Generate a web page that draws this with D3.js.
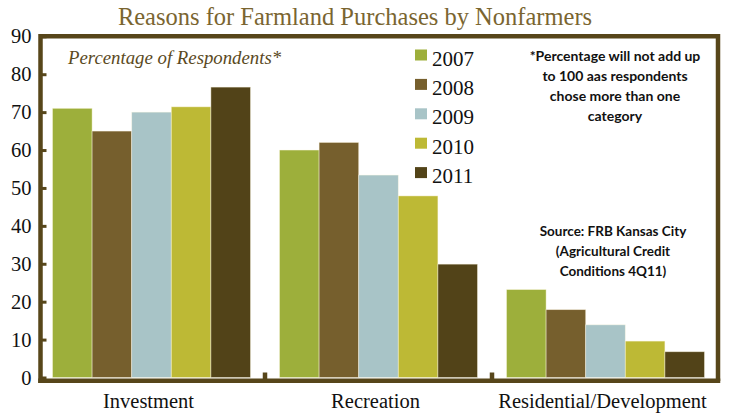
<!DOCTYPE html>
<html>
<head>
<meta charset="utf-8">
<script src="https://cdn.jsdelivr.net/npm/d3@7/dist/d3.min.js"></script>
<style>
  html, body { margin: 0; padding: 0; background: #fff; }
  svg { display: block; }
</style>
</head>
<body>
<svg id="chart" width="740" height="416"></svg>
<script>
const categories = ["Investment", "Recreation", "Residential/Development"];
const years = ["2007", "2008", "2009", "2010", "2011"];
const values2007 = [71.0, 60.0, 23.2];
const values2008 = [65.0, 62.0, 17.9];
const values2009 = [70.0, 53.4, 13.9];
const values2010 = [71.4, 47.9, 9.6];
const values2011 = [76.6, 29.9, 6.8];
const yTicks = [0, 10, 20, 30, 40, 50, 60, 70, 80, 90];
const colors = ["#9DAF3B", "#765F2D", "#A8C4C7", "#BDB935", "#524318"];
const titleText = "Reasons for Farmland Purchases by Nonfarmers";
const subtitleText = "Percentage of Respondents*";
const noteLines = ["*Percentage will not add up", "to 100 aas respondents", "chose more than one", "category"];
const sourceLines = ["Source: FRB Kansas City", "(Agricultural Credit", "Conditions 4Q11)"];

const series = [values2007, values2008, values2009, values2010, values2011];
const frameColor = "#57461A";

const svg = d3.select("#chart");

const x0 = d3.scaleBand().domain(categories).range([38, 719]).padding(0);
const x1 = d3.scaleBand().domain(years).range([14.5, x0.bandwidth() - 14.5]).padding(0);
const y = d3.scaleLinear().domain([0, 90]).range([377.5, 36.3]);

// Bars
const groups = svg.append("g").selectAll("g")
  .data(categories)
  .join("g")
  .attr("transform", d => `translate(${x0(d)},0)`);

groups.selectAll("rect")
  .data((c, ci) => years.map((yr, si) => ({ yr, v: series[si][ci], si })))
  .join("rect")
  .attr("x", d => x1(d.yr))
  .attr("width", x1.bandwidth())
  .attr("y", d => y(d.v))
  .attr("height", d => y(0) - y(d.v))
  .attr("fill", d => colors[d.si])
  .attr("stroke", "rgba(255,250,230,0.55)")
  .attr("stroke-width", 0.8);

// Frame (top + right)
const fw = 4.5;
svg.append("line").attr("x1", 40.5).attr("x2", 718).attr("y1", y(90)).attr("y2", y(90))
  .attr("stroke", frameColor).attr("stroke-width", fw);
svg.append("line").attr("x1", 718).attr("x2", 718).attr("y1", y(90) - fw / 2).attr("y2", y(0) + 3.5)
  .attr("stroke", frameColor).attr("stroke-width", fw);

// Y axis
const yAxis = d3.axisLeft(y).tickValues(yTicks).tickSizeInner(-6).tickSizeOuter(0).tickPadding(9);
const gy = svg.append("g").attr("transform", "translate(40.5,0)").call(yAxis);
gy.select(".domain").remove();
gy.selectAll(".tick line").attr("stroke", frameColor).attr("stroke-width", 3);
gy.selectAll(".tick text")
  .attr("font-family", "Liberation Serif, serif")
  .attr("font-size", 20.5)
  .attr("fill", "#111");
svg.append("line").attr("x1", 40.5).attr("x2", 40.5).attr("y1", y(90) - fw / 2).attr("y2", y(0) + 5.5)
  .attr("stroke", frameColor).attr("stroke-width", fw);

// X axis baseline
svg.append("line").attr("x1", 38.25).attr("x2", 720.25).attr("y1", y(0) + 3.3).attr("y2", y(0) + 3.3)
  .attr("stroke", frameColor).attr("stroke-width", fw);

// X boundary ticks
svg.append("g").selectAll("line")
  .data(categories.slice(1))
  .join("line")
  .attr("x1", d => x0(d)).attr("x2", d => x0(d))
  .attr("y1", y(0) + 2).attr("y2", y(0) - 5)
  .attr("stroke", frameColor).attr("stroke-width", 4.5);

// X labels
const xAxis = d3.axisBottom(x0).tickSize(0).tickPadding(0);
const gx = svg.append("g").attr("transform", `translate(-3,${y(0) + 16})`).call(xAxis);
gx.select(".domain").remove();
gx.selectAll(".tick text")
  .attr("font-family", "Liberation Serif, serif")
  .attr("font-size", 20.5)
  .attr("fill", "#111");

// Title
svg.append("text")
  .attr("x", 355).attr("y", 25)
  .attr("text-anchor", "middle")
  .attr("font-family", "Liberation Serif, serif")
  .attr("font-size", 24.5)
  .attr("fill", "#7A6530")
  .text(titleText);

// Subtitle
svg.append("text")
  .attr("x", 68).attr("y", 64)
  .attr("font-family", "Liberation Serif, serif")
  .attr("font-style", "italic")
  .attr("font-size", 18.8)
  .attr("fill", "#5B4A1E")
  .text(subtitleText);

// Legend
const legend = svg.append("g").selectAll("g")
  .data(years)
  .join("g")
  .attr("transform", (d, i) => `translate(415,${49.5 + i * 29.4})`);
legend.append("rect").attr("width", 12).attr("height", 11).attr("fill", (d, i) => colors[i]);
legend.append("text")
  .attr("x", 17).attr("y", 16)
  .attr("font-family", "Liberation Serif, serif")
  .attr("font-size", 21)
  .attr("fill", "#111")
  .text(d => d);

// Notes
svg.append("g").selectAll("text")
  .data(noteLines)
  .join("text")
  .attr("x", 615).attr("y", (d, i) => 61 + i * 20)
  .attr("text-anchor", "middle")
  .attr("font-family", "Lato, sans-serif")
  .attr("font-weight", "bold")
  .attr("font-size", 14)
  .attr("fill", "#111")
  .text(d => d);

svg.append("g").selectAll("text")
  .data(sourceLines)
  .join("text")
  .attr("x", 613).attr("y", (d, i) => 236 + i * 20)
  .attr("text-anchor", "middle")
  .attr("font-family", "Lato, sans-serif")
  .attr("font-weight", "bold")
  .attr("font-size", 13.5)
  .attr("fill", "#111")
  .text(d => d);
</script>
</body>
</html>
